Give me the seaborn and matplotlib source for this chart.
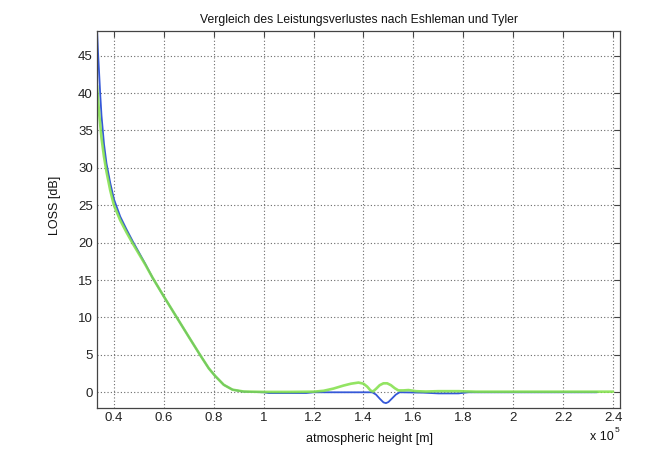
import matplotlib
matplotlib.use("Agg")
import matplotlib.pyplot as plt
import seaborn as sns
import pandas as pd
from matplotlib.ticker import FuncFormatter

# ---- data (height in m, loss in dB) ----
eshleman_h = [33200, 33600, 34000, 34500, 35000, 36000, 37000, 38500, 40000, 42500, 45000, 47500,
              50000, 52500, 55500, 60000, 65000, 70000, 74500, 78000, 80500, 84000,
              87500, 92000, 100000, 102000, 110000, 117000, 120000, 130000, 143500,
              145000, 146500, 148000, 149000, 150000, 151500, 153000, 154500,
              164000, 170000, 178000, 182000, 200000, 233600]
eshleman_loss = [48.6, 45.5, 43.0, 39.8, 37.0, 33.2, 30.6, 28.0, 25.8, 23.5, 21.8, 20.2,
                 18.7, 17.2, 15.3, 12.8, 10.1, 7.4, 5.0, 3.2, 2.2, 1.0,
                 0.35, 0.08, 0.0, -0.1, -0.1, -0.1, 0.0, 0.0, 0.0,
                 -0.3, -0.85, -1.35, -1.45, -1.3, -0.8, -0.3, 0.0,
                 -0.05, -0.15, -0.15, 0.0, 0.0, 0.0]

tyler_h = [33200, 34000, 35000, 36000, 37000, 38500, 40000, 42500, 45000, 47500,
           50000, 52500, 55500, 60000, 65000, 70000, 74500, 78000, 80500, 84000,
           87500, 92000, 100000, 110000, 120000, 124000, 128000, 132000, 135000,
           138000, 140000, 141500, 142800, 143800, 145000, 146500, 148000, 149500,
           151000, 152500, 154000, 156000, 158000, 161000, 165000,
           170000, 178000, 185000, 240000]
tyler_loss = [41.0, 37.5, 34.0, 31.5, 29.5, 27.0, 25.0, 23.0, 21.4, 19.9,
              18.5, 17.1, 15.3, 12.8, 10.1, 7.4, 5.0, 3.2, 2.2, 1.0,
              0.35, 0.1, 0.05, 0.05, 0.08, 0.2, 0.5, 0.9, 1.15,
              1.3, 1.15, 0.75, 0.25, 0.1, 0.45, 0.95, 1.2, 1.2,
              0.95, 0.55, 0.25, 0.25, 0.3, 0.15, 0.1,
              0.15, 0.15, 0.08, 0.08]

x_ticks = [40000, 60000, 80000, 100000, 120000, 140000, 160000, 180000, 200000, 220000, 240000]
y_ticks = [0, 5, 10, 15, 20, 25, 30, 35, 40, 45]

title = "Vergleich des Leistungsverlustes nach Eshleman und Tyler"
xlabel = "atmospheric height [m]"
ylabel = "LOSS [dB]"

sns.set_style("white")
plt.rcParams['font.family'] = ['Liberation Sans', 'DejaVu Sans']

fig = plt.figure(figsize=(6.71, 4.5), dpi=100)
ax = fig.add_axes([97 / 671, (450 - 408) / 450, (620 - 97) / 671, (408 - 31) / 450])

df_e = pd.DataFrame({"h": eshleman_h, "loss": eshleman_loss})
df_t = pd.DataFrame({"h": tyler_h, "loss": tyler_loss})
sns.lineplot(data=df_e, x="h", y="loss", ax=ax, color="#3558d8", linewidth=1.3,
             sort=False, estimator=None)
sns.lineplot(data=df_t, x="h", y="loss", ax=ax, color="#80e048", linewidth=1.9,
             alpha=0.85, sort=False, estimator=None)

ax.set_xlim(33200, 242800)
ax.set_ylim(-2.1, 48.3)
ax.set_xticks(x_ticks)
ax.set_yticks(y_ticks)
ax.xaxis.set_major_formatter(FuncFormatter(lambda v, p: "%g" % (v / 1e5)))

ax.grid(True, linestyle=(0, (1, 2)), color="#6a6a6a", linewidth=0.8)
for s in ax.spines.values():
    s.set_color("#444444")
    s.set_linewidth(0.9)
ax.tick_params(direction="in", length=4, width=0.8, color="#444444",
               top=True, right=True, labelsize=9.5, pad=3, labelcolor="#222222")

ax.set_title(title, fontsize=8.7, color="#111111", pad=6)
ax.set_xlabel(xlabel, fontsize=9, color="#111111")
ax.set_ylabel(ylabel, fontsize=9, color="#111111")
ax.xaxis.set_label_coords((370 - 97) / 523, (408 - 433) / 377)
ax.yaxis.set_label_coords((61 - 97) / 523, (408 - 205) / 377)

fig.text(602 / 671, 1 - 437 / 450, "x 10", fontsize=9, ha="center", va="center", color="#111111")
fig.text(617 / 671, 1 - 430 / 450, "5", fontsize=6, ha="center", va="center", color="#111111")

fig.savefig("out.png", dpi=100)
